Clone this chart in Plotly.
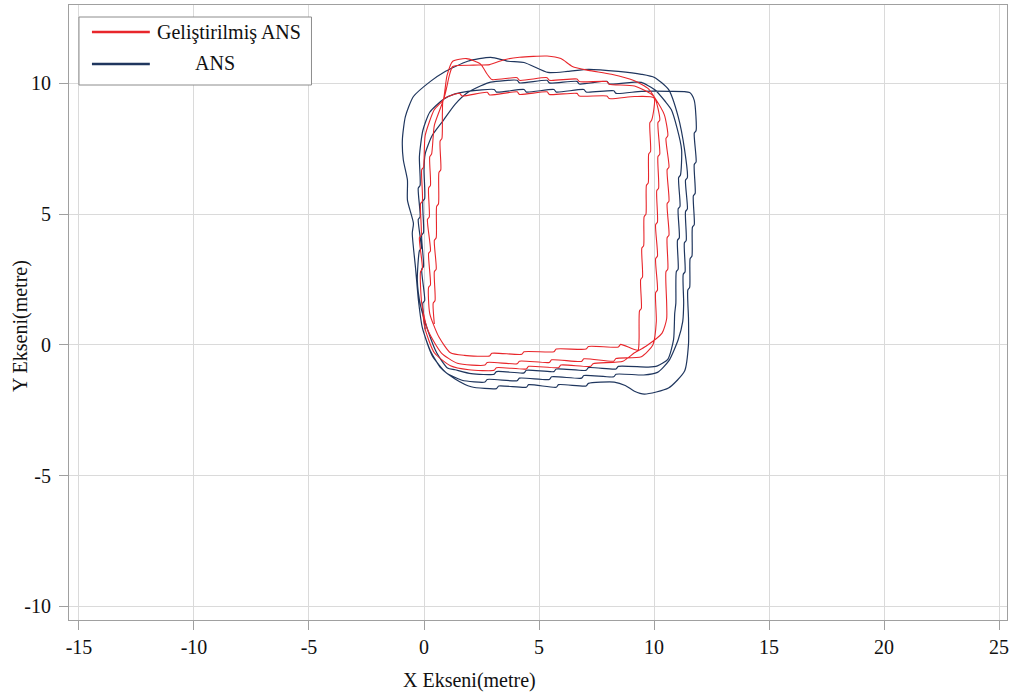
import plotly.graph_objects as go

# ---------------- data ----------------
series_names = ["Geliştirilmiş ANS", "ANS"]
x_ticks = [-15, -10, -5, 0, 5, 10, 15, 20, 25]
x_tick_text = ["-15", "-10", "-5", "0", "5", "10", "15", "20", "25"]
y_ticks = [-10, -5, 0, 5, 10]
y_tick_text = ["-10", "-5", "0", "5", "10"]

# Geliştirilmiş ANS trajectory (x, y) in metres
red_loop1 = [
    (0.45, 0.8), (0.4, 1.6), (0.48, 1.7), (0.45, 2.8), (0.53, 2.9), (0.45, 4.0), (0.53, 4.1),
    (0.55, 5.3), (0.63, 5.4), (0.65, 6.6), (0.73, 6.7), (0.7, 7.8), (0.78, 7.9), (0.8, 8.9),
    (0.85, 9.4), (1.55, 9.62), (1.65, 9.52), (2.75, 9.66), (2.85, 9.56), (4.05, 9.68),
    (4.15, 9.58), (5.35, 9.68), (5.45, 9.58), (6.65, 9.62), (6.75, 9.52), (7.95, 9.52),
    (8.05, 9.42), (9.15, 9.5), (10.0, 9.45), (9.9, 8.6), (9.82, 8.5), (9.85, 7.4), (9.77, 7.3),
    (9.75, 6.2), (9.67, 6.1), (9.65, 5.0), (9.57, 4.9), (9.55, 3.8), (9.47, 3.7), (9.5, 2.6),
    (9.42, 2.5), (9.45, 1.4), (9.37, 1.3), (9.35, 0.2), (9.3, -0.2), (8.55, 0.02),
    (8.45, -0.08), (7.15, -0.06), (7.05, -0.16), (5.75, -0.16), (5.65, -0.26), (4.35, -0.26),
    (4.25, -0.36), (2.95, -0.32), (2.85, -0.42), (1.75, -0.4), (1.15, -0.3), (0.65, 0.3),
    (0.25, 1.2),
]
red_loop2 = [
    (0.2, 2.2), (0.28, 2.3), (0.2, 3.5), (0.28, 3.6), (0.15, 4.8), (0.23, 4.9), (0.2, 6.0),
    (0.28, 6.1), (0.25, 7.2), (0.33, 7.3), (0.45, 8.4), (0.85, 9.4), (1.0, 10.3), (1.25, 10.85),
    (1.85, 10.95), (2.45, 10.75), (2.75, 10.35), (2.95, 10.15), (4.05, 10.22), (4.15, 10.12),
    (5.35, 10.22), (5.45, 10.12), (6.65, 10.17), (6.75, 10.07), (7.95, 10.07), (8.05, 9.97),
    (9.15, 9.9), (10.0, 9.5), (10.25, 8.6), (10.17, 8.5), (10.25, 7.3), (10.17, 7.2),
    (10.2, 6.0), (10.12, 5.9), (10.15, 4.7), (10.07, 4.6), (10.15, 3.4), (10.07, 3.3),
    (10.15, 2.1), (10.07, 2.0), (10.1, 0.9), (9.95, 0.0), (9.45, -0.45), (8.35, -0.52),
    (8.25, -0.62), (6.95, -0.53), (6.85, -0.63), (5.55, -0.57), (5.45, -0.67), (4.15, -0.62),
    (4.05, -0.72), (2.75, -0.67), (2.65, -0.77), (1.45, -0.7), (0.75, -0.3), (0.15, 0.6),
    (-0.1, 1.6),
]
red_loop3 = [
    (-0.15, 2.8), (-0.07, 2.9), (-0.2, 4.1), (-0.12, 4.2), (-0.15, 5.4), (-0.07, 5.5),
    (-0.1, 6.7), (-0.02, 6.8), (0.05, 8.0), (0.45, 9.0), (0.85, 9.4), (1.1, 10.3),
    (1.25, 10.65), (2.15, 10.7), (2.85, 10.72), (3.45, 10.9), (4.15, 11.0), (5.35, 11.05),
    (5.95, 10.95), (6.45, 10.65), (7.15, 10.5), (8.15, 10.35), (9.15, 10.1), (9.75, 9.8),
    (10.0, 9.5), (10.45, 8.8), (10.6, 8.0), (10.52, 7.9), (10.65, 6.8), (10.57, 6.7),
    (10.65, 5.5), (10.57, 5.4), (10.65, 4.2), (10.57, 4.1), (10.6, 2.9), (10.52, 2.8),
    (10.55, 1.6), (10.55, 1.0), (10.35, 0.45), (9.65, -0.05), (9.15, -0.3), (8.65, -0.62),
    (7.35, -0.72), (7.25, -0.82), (5.95, -0.77), (5.85, -0.87), (4.55, -0.82), (4.45, -0.92),
    (3.15, -0.87), (3.05, -0.97), (1.95, -0.95), (1.15, -0.8), (0.45, -0.3), (0.05, 0.6),
    (-0.05, 1.2),
]

# ANS trajectory (x, y) in metres
blue_loop1 = [
    (0.05, 0.6), (-0.05, 1.6), (0.03, 1.7), (-0.1, 2.9), (-0.02, 3.0), (-0.1, 4.2),
    (-0.02, 4.3), (-0.05, 5.5), (0.03, 5.6), (0.0, 6.7), (0.05, 7.3), (0.35, 8.0), (0.85, 8.6),
    (1.35, 9.2), (1.9, 9.65), (2.45, 9.9), (2.9, 10.05), (4.05, 10.12), (4.15, 10.02),
    (5.35, 10.12), (5.45, 10.02), (6.65, 10.08), (6.75, 9.98), (7.95, 10.08), (8.05, 9.98),
    (9.15, 10.05), (9.45, 10.04), (10.05, 9.75), (10.5, 9.3), (10.75, 9.0), (11.0, 8.3),
    (11.2, 7.46), (11.15, 6.5), (11.07, 6.4), (11.13, 5.3), (11.05, 5.2), (11.1, 4.1),
    (11.02, 4.0), (11.05, 2.9), (10.97, 2.8), (10.95, 1.6), (10.9, 1.2), (10.85, 0.2),
    (10.6, -0.55), (10.15, -0.8), (9.75, -0.85), (8.45, -0.82), (8.35, -0.92), (7.15, -0.87),
    (7.05, -0.97), (5.75, -0.92), (5.65, -1.02), (4.45, -0.97), (4.35, -1.07), (3.15, -1.02),
    (3.05, -1.12), (2.05, -1.1), (1.35, -0.95), (1.02, -0.88), (0.55, -0.3), (0.15, 0.6),
    (-0.15, 1.5), (-0.29, 2.46),
]
blue_loop2 = [
    (-0.2, 3.6), (-0.12, 3.7), (-0.25, 4.8), (-0.17, 4.9), (-0.25, 6.0), (-0.17, 6.1),
    (-0.2, 7.2), (-0.05, 8.2), (0.25, 8.9), (0.85, 9.4), (1.35, 9.6), (1.9, 9.7), (3.05, 9.77),
    (3.15, 9.67), (4.35, 9.77), (4.45, 9.67), (5.65, 9.77), (5.75, 9.67), (6.95, 9.77),
    (7.05, 9.67), (8.25, 9.72), (8.35, 9.62), (9.45, 9.7), (10.65, 9.7), (11.55, 9.65),
    (11.75, 9.35), (11.83, 8.2), (11.75, 8.1), (11.83, 7.0), (11.75, 6.9), (11.79, 5.8),
    (11.71, 5.7), (11.75, 4.6), (11.67, 4.5), (11.65, 3.4), (11.57, 3.3), (11.55, 2.2),
    (11.47, 2.1), (11.5, 1.0), (11.5, 0.04), (11.33, -1.0), (10.63, -1.65), (9.58, -1.88),
    (9.15, -1.77), (8.75, -1.55), (8.27, -1.42), (7.15, -1.47), (7.05, -1.57), (5.85, -1.52),
    (5.75, -1.62), (4.55, -1.52), (4.45, -1.62), (3.25, -1.57), (3.15, -1.67), (2.05, -1.6),
    (1.35, -1.3), (0.75, -0.9), (0.28, -0.23),
]
blue_loop3 = [
    (-0.07, 0.65), (-0.24, 1.69), (-0.37, 2.96), (-0.51, 4.27), (-0.46, 4.65), (-0.72, 5.54),
    (-0.72, 6.3), (-0.9, 7.08), (-0.94, 7.85), (-0.81, 8.73), (-0.46, 9.5), (0.28, 10.08),
    (0.85, 10.42), (1.9, 10.85), (2.9, 11.0), (3.65, 10.85), (4.35, 10.8), (5.39, 10.42),
    (6.25, 10.46), (7.15, 10.54), (8.45, 10.46), (9.45, 10.35), (10.02, 10.23), (10.63, 9.77),
    (11.05, 8.73), (11.33, 7.46), (11.45, 6.4), (11.37, 6.3), (11.45, 5.2), (11.37, 5.1),
    (11.4, 4.0), (11.32, 3.9), (11.35, 2.8), (11.27, 2.7), (11.29, 1.6), (11.25, 0.9),
    (11.05, 0.2), (10.65, -0.6), (10.15, -1.05), (9.55, -1.15), (8.35, -1.12), (8.25, -1.22),
    (6.95, -1.17), (6.85, -1.27), (5.55, -1.22), (5.45, -1.32), (4.15, -1.27), (4.05, -1.37),
    (2.75, -1.32), (2.65, -1.42), (1.65, -1.35), (0.95, -1.05), (0.35, -0.4), (0.05, 0.3),
]

red_pts = red_loop1 + red_loop2 + red_loop3
blue_pts = blue_loop1 + blue_loop2 + blue_loop3

RED = "#e8262b"
BLUE = "#1f365e"

fig = go.Figure()
fig.add_trace(go.Scatter(
    x=[p[0] for p in blue_pts], y=[p[1] for p in blue_pts], mode="lines",
    line=dict(color=BLUE, width=1.2, shape="spline", smoothing=0.6),
    name=series_names[1], showlegend=False))
fig.add_trace(go.Scatter(
    x=[p[0] for p in red_pts], y=[p[1] for p in red_pts], mode="lines",
    line=dict(color=RED, width=1.1, shape="spline", smoothing=0.6),
    name=series_names[0], showlegend=False))

W, H = 1013, 698
L, R, T, B = 69, 4, 5, 78
pw, ph = W - L - R, H - T - B

def px(xp):
    return (xp - L) / pw

def py(yp):
    return (H - B - yp) / ph

font_family = "Liberation Serif, Times New Roman, serif"
FS = 20

# legend box
fig.add_shape(type="rect", xref="paper", yref="paper",
              x0=px(79), x1=px(312), y0=py(85), y1=py(17),
              line=dict(color="#8c8c8c", width=1), fillcolor="white", layer="above")
fig.add_shape(type="line", xref="paper", yref="paper",
              x0=px(92), x1=px(150), y0=py(32), y1=py(32),
              line=dict(color=RED, width=2.5), layer="above")
fig.add_shape(type="line", xref="paper", yref="paper",
              x0=px(92), x1=px(150), y0=py(64), y1=py(64),
              line=dict(color=BLUE, width=2.5), layer="above")
fig.add_annotation(xref="paper", yref="paper", x=px(155), y=py(32), xanchor="left",
                   yanchor="middle", text=series_names[0], showarrow=False,
                   font=dict(family=font_family, size=FS, color="#111"))
fig.add_annotation(xref="paper", yref="paper", x=px(193), y=py(63), xanchor="left",
                   yanchor="middle", text=series_names[1], showarrow=False,
                   font=dict(family=font_family, size=FS, color="#111"))

# axis titles
fig.add_annotation(xref="paper", yref="paper", x=px(470), y=py(680), xanchor="center",
                   yanchor="middle", text="X Ekseni(metre)", showarrow=False,
                   font=dict(family=font_family, size=FS, color="#111"))
fig.add_annotation(xref="paper", yref="paper", x=px(20), y=py(326), xanchor="center",
                   yanchor="middle", text="Y Ekseni(metre)", showarrow=False, textangle=-90,
                   font=dict(family=font_family, size=FS, color="#111"))

axis_common = dict(
    showgrid=True, gridcolor="#dadada", gridwidth=1,
    zeroline=False, showline=True, linecolor="#a0a0a0", linewidth=1, mirror=True,
    ticks="outside", tickcolor="#a0a0a0",
    tickfont=dict(family=font_family, size=FS, color="#111"),
)

fig.update_layout(
    width=W, height=H,
    margin=dict(l=L, r=R, t=T, b=B),
    paper_bgcolor="white", plot_bgcolor="white",
    showlegend=False,
    xaxis=dict(range=[-15.434, 25.347], tickvals=x_ticks, ticktext=x_tick_text,
               ticklen=9, **axis_common),
    yaxis=dict(range=[-10.52, 13.0], tickvals=y_ticks, ticktext=y_tick_text,
               ticklen=9, ticklabelstandoff=4, **axis_common),
)

fig.write_html("out.html", config={"displayModeBar": False},
               post_script="document.body.style.margin='0px';")
